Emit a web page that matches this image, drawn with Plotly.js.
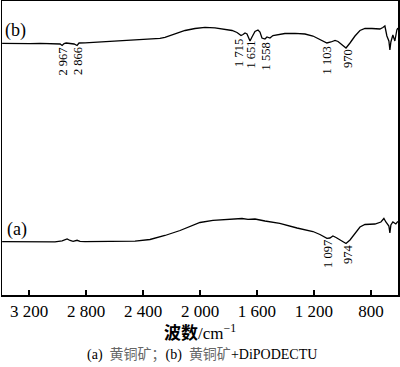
<!DOCTYPE html>
<html><head><meta charset="utf-8">
<script src="https://cdn.plot.ly/plotly-3.0.1.min.js"></script>
<style>html,body{margin:0;padding:0;background:#fff}#chart{width:400px;height:367px}</style>
</head><body><div id="chart"></div>
<script>
// Wavenumber (cm-1) and relative transmittance for (b) chalcopyrite + DiPODECTU
const wnB = [3389,3333,3263,3193,3123,3053,2997,2982,2968,2954,2940,2912,2884,2863,2849,2807,2702,2561,2421,2281,2246,2175,2105,2035,1965,1895,1825,1775,1740,1712,1698,1684,1670,1649,1635,1614,1593,1579,1565,1544,1530,1509,1488,1453,1404,1333,1263,1207,1158,1109,1081,1052,1031,1003,975,947,912,877,842,793,737,716,702,688,674,667,660,646,632,618,611];
const tB = [251.7,251.5,251.8,251.4,251.7,251.5,251.7,251,249.5,251.5,252,251.2,251,249.5,252,252.2,253,254,255,256.7,257.7,261.5,264.5,266.5,267.7,267.2,266,264.5,262.5,259.5,260.5,262,261,254,258,263.5,265,263,257,256,258,257,259.5,260.5,261.5,261.7,261,259,255.5,252,253,254.5,253.5,250,247,252,259,264.5,266.5,266.5,266,267.5,269,259,254,245,253,260,254,265,267];
// (a) chalcopyrite
const wnA = [3389,3263,3123,3018,2968,2933,2912,2891,2863,2842,2807,2702,2561,2456,2351,2246,2140,2070,2000,1909,1825,1733,1705,1663,1614,1544,1440,1319,1207,1158,1109,1088,1067,1045,1010,975,947,912,877,842,772,730,709,695,681,674,667,660,646,625,611];
const tA = [53.3,53.2,53.5,53.2,54.2,56,54.5,53.7,54.7,53.7,53.3,53.5,53.3,53.8,55.5,59.5,64.5,68.5,72.5,74.7,75.5,76,76.5,75.7,76,74,71.7,67,63.5,60.5,56.7,57,59,57.5,54.5,51.5,55,61,68,70.5,71,73,76.5,73,70,69,62,70,73,71,73.5];
// Axis ticks
const tickVals = [3200,2800,2400,2000,1600,1200,800];
const tickLabels = ['3 200','2 800','2 400','2 000','1 600','1 200','800'];
// Peak labels
const peakTextB = ['2 967','2 866','1 715','1 651','1 558','1 103','970'];
const peakXB = [2968,2860,1730,1649,1537,1105,965];
const peakYB = [233.5,233.5,242.5,240.5,238.5,235,236.5];
const peakTextA = ['1 097','974'];
const peakXA = [1105,961];
const peakYA = [41.5,41];

const serif = 'Liberation Serif, Times New Roman, serif';
const cjk = 'Liberation Serif, Noto Sans CJK SC, serif';

const traces = [
  {x: wnB, y: tB, mode: 'lines', line: {color: '#000', width: 1.3}, hoverinfo: 'skip'},
  {x: wnA, y: tA, mode: 'lines', line: {color: '#000', width: 1.3}, hoverinfo: 'skip'}
];

const ann = [];
function addPeaks(texts, xs, ys) {
  texts.forEach((t, i) => ann.push({x: xs[i], y: ys[i], xref: 'x', yref: 'y', text: t, showarrow: false,
    textangle: -90, xanchor: 'center', yanchor: 'middle', font: {family: serif, size: 12.5, color: '#000'}}));
}
addPeaks(peakTextB, peakXB, peakYB);
addPeaks(peakTextA, peakXA, peakYA);
ann.push({x: 0.033, y: 0.901, xref: 'paper', yref: 'paper', text: '(b)', showarrow: false,
  xanchor: 'center', yanchor: 'middle', font: {family: serif, size: 18, color: '#000'}});
ann.push({x: 0.038, y: 0.224, xref: 'paper', yref: 'paper', text: '(a)', showarrow: false,
  xanchor: 'center', yanchor: 'middle', font: {family: serif, size: 18, color: '#000'}});
ann.push({x: 0.506, y: -0.204, xref: 'paper', yref: 'paper', showarrow: false,
  text: '(a)  <span style="color:#666">黄铜矿；</span>(b)  <span style="color:#666">黄铜矿</span>+DiPODECTU',
  xanchor: 'center', yanchor: 'middle', font: {family: cjk, size: 14, color: '#000'}});

const layout = {
  width: 400, height: 367,
  margin: {l: 2, r: 2, t: 1, b: 72},
  paper_bgcolor: '#fff', plot_bgcolor: '#fff',
  showlegend: false,
  xaxis: {
    range: [3390, 610], tickvals: tickVals, ticktext: tickLabels,
    ticks: 'inside', ticklen: 5, tickwidth: 1.2, tickcolor: '#000',
    showline: true, mirror: true, linecolor: '#000', linewidth: 1.5,
    showgrid: false, zeroline: false,
    tickfont: {family: serif, size: 17, color: '#000'},
    title: {text: '<b>波数</b>/cm<sup>−1</sup>', font: {family: cjk, size: 17, color: '#000'}, standoff: 5}
  },
  yaxis: {
    range: [0, 294], showticklabels: false, ticks: '',
    showline: true, mirror: true, linecolor: '#000', linewidth: 1.5,
    showgrid: false, zeroline: false
  },
  annotations: ann
};
Plotly.newPlot('chart', traces, layout, {staticPlot: true, displayModeBar: false});
</script></body></html>
